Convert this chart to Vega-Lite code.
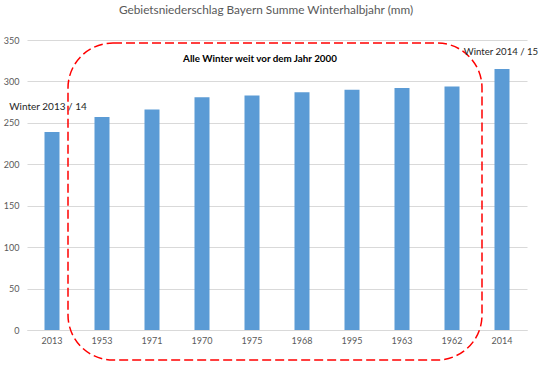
{
  "$schema": "https://vega.github.io/schema/vega-lite/v6.json",
  "width": 500,
  "height": 290,
  "autosize": {"type": "none"},
  "padding": {"left": 27, "top": 40, "right": 13, "bottom": 39},
  "background": "white",
  "config": {
    "view": {"stroke": null},
    "font": "Lato",
    "axis": {"labelFont": "Lato", "labelColor": "#595959", "labelFontSize": 9}
  },
  "title": {
    "text": "Gebietsniederschlag Bayern Summe Winterhalbjahr (mm)",
    "font": "Lato",
    "fontSize": 11.8,
    "fontWeight": "normal",
    "color": "#595959",
    "anchor": "middle",
    "dx": -11,
    "offset": 19
  },
  "data": {
    "values": [
      {"jahr": "2013", "mm": 239},
      {"jahr": "1953", "mm": 257},
      {"jahr": "1971", "mm": 266},
      {"jahr": "1970", "mm": 281},
      {"jahr": "1975", "mm": 283},
      {"jahr": "1968", "mm": 287},
      {"jahr": "1995", "mm": 290},
      {"jahr": "1963", "mm": 292},
      {"jahr": "1962", "mm": 294},
      {"jahr": "2014", "mm": 315}
    ]
  },
  "resolve": {"scale": {"x": "independent"}},
  "layer": [
    {
      "mark": {"type": "bar", "color": "#5B9BD5"},
      "encoding": {
        "x": {
          "field": "jahr", "type": "nominal", "sort": null,
          "scale": {"paddingInner": 0.7, "paddingOuter": 0.35},
          "axis": {"title": null, "labelAngle": 0, "ticks": false, "domainColor": "#D9D9D9", "labelPadding": 6, "grid": false}
        },
        "y": {
          "field": "mm", "type": "quantitative",
          "scale": {"domain": [0, 350], "nice": false},
          "axis": {"title": null, "values": [0, 50, 100, 150, 200, 250, 300, 350], "ticks": false, "domain": false, "gridColor": "#D9D9D9", "labelPadding": 8}
        }
      }
    },
    {
      "data": {"values": [{}]},
      "mark": {"type": "rect", "fill": null, "stroke": "#FF0000", "strokeWidth": 1.5, "strokeDash": [9, 4], "cornerRadius": 45},
      "encoding": {
        "x": {"datum": 0.82, "type": "quantitative", "scale": {"domain": [0, 10]}, "axis": null},
        "x2": {"datum": 9.1},
        "y": {"datum": 346.4, "type": "quantitative"},
        "y2": {"datum": -36.2}
      }
    },
    {
      "data": {"values": [{}]},
      "mark": {"type": "text", "fontWeight": "bold", "fontSize": 9.8, "color": "#000000", "font": "Lato"},
      "encoding": {
        "x": {"datum": 4.66, "type": "quantitative", "scale": {"domain": [0, 10]}, "axis": null},
        "y": {"datum": 327, "type": "quantitative"},
        "text": {"value": "Alle Winter weit  vor dem Jahr 2000"}
      }
    },
    {
      "data": {"values": [{}]},
      "mark": {"type": "text", "fontSize": 10, "color": "#262626", "font": "Lato"},
      "encoding": {
        "x": {"datum": 0.42, "type": "quantitative", "scale": {"domain": [0, 10]}, "axis": null},
        "y": {"datum": 269, "type": "quantitative"},
        "text": {"value": "Winter 2013 / 14"}
      }
    },
    {
      "data": {"values": [{}]},
      "mark": {"type": "text", "fontSize": 9.6, "color": "#262626", "font": "Lato"},
      "encoding": {
        "x": {"datum": 9.48, "type": "quantitative", "scale": {"domain": [0, 10]}, "axis": null},
        "y": {"datum": 335.5, "type": "quantitative"},
        "text": {"value": "Winter 2014 / 15"}
      }
    }
  ]
}
